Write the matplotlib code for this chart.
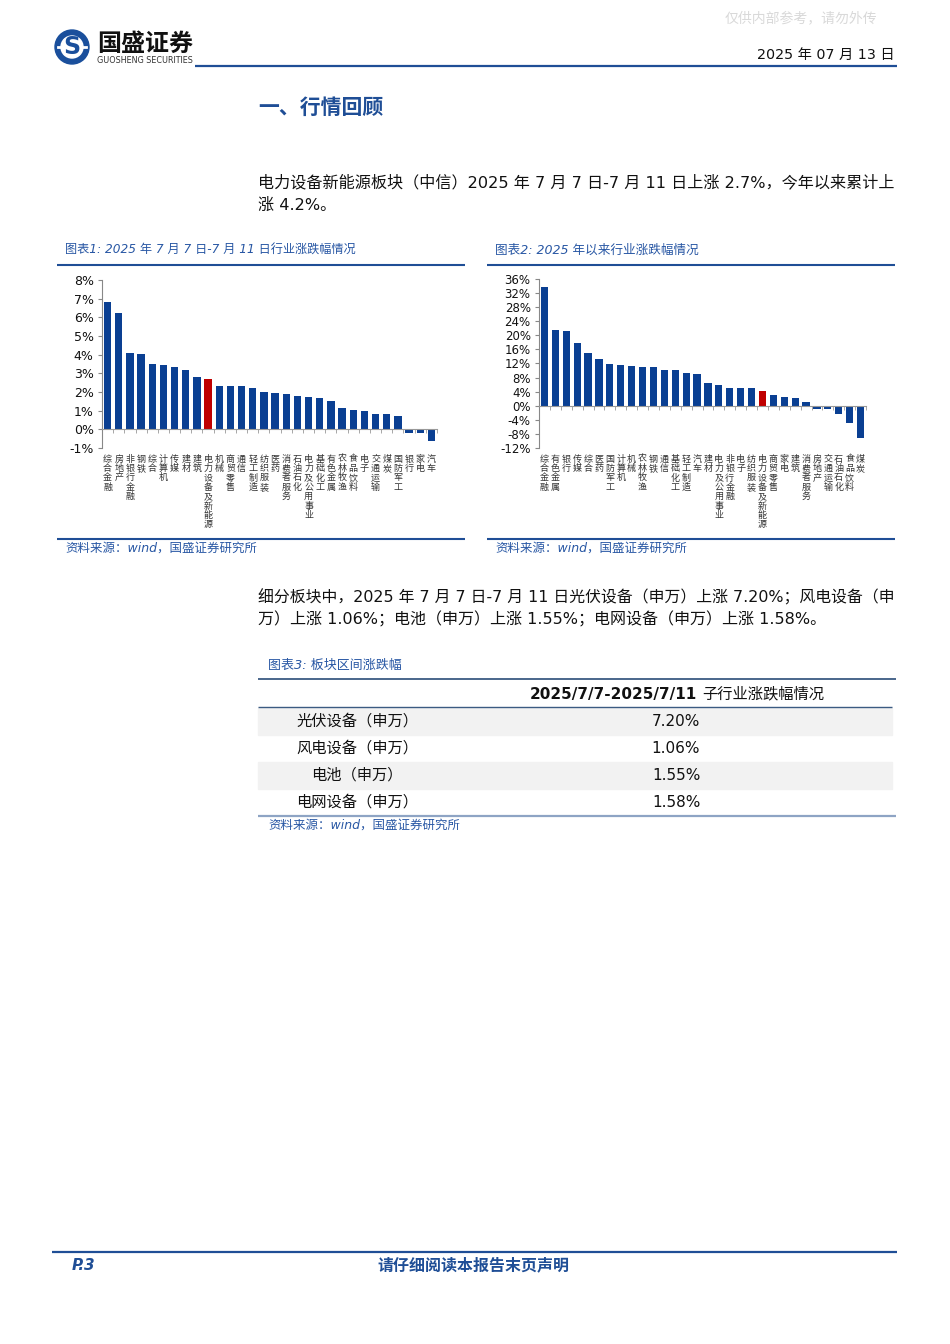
import numpy as np
import matplotlib
matplotlib.use("Agg")
import matplotlib.pyplot as plt
from matplotlib.patches import Circle, Rectangle

plt.rcParams["font.family"] = ["DejaVu Sans", "Noto Sans CJK SC"]

# ---- data ----
week_names = ["综合金融", "房地产", "非银行金融", "钢铁", "综合", "计算机", "传媒", "建材",
              "建筑", "电力设备及新能源", "机械", "商贸零售", "通信", "轻工制造", "纺织服装",
              "医药", "消费者服务", "石油石化", "电力及公用事业", "基础化工", "有色金属",
              "农林牧渔", "食品饮料", "电子", "交通运输", "煤炭", "国防军工", "银行", "家电", "汽车"]
week_chg = [6.84, 6.21, 4.07, 4.02, 3.50, 3.46, 3.36, 3.18, 2.82, 2.70, 2.32, 2.32, 2.30, 2.20,
            1.98, 1.93, 1.89, 1.80, 1.73, 1.68, 1.50, 1.12, 1.04, 0.98, 0.82, 0.82, 0.73,
            -0.18, -0.20, -0.60]

ytd_names = ["综合金融", "有色金属", "银行", "传媒", "综合", "医药", "国防军工", "计算机", "机械",
             "农林牧渔", "钢铁", "通信", "基础化工", "轻工制造", "汽车", "建材", "电力及公用事业",
             "非银行金融", "电子", "纺织服装", "电力设备及新能源", "商贸零售", "家电", "建筑",
             "消费者服务", "房地产", "交通运输", "石油石化", "食品饮料", "煤炭"]
ytd_chg = [33.7, 21.6, 21.2, 17.8, 15.1, 13.3, 11.9, 11.6, 11.2, 11.0, 11.0, 10.2, 10.1, 9.2, 9.0,
           6.6, 5.8, 5.1, 5.1, 4.9, 4.2, 3.0, 2.6, 2.1, 1.2, -0.8, -1.0, -2.4, -5.0, -9.3]

highlight = "电力设备及新能源"

table_rows = ["光伏设备（申万）", "风电设备（申万）", "电池（申万）", "电网设备（申万）"]
table_vals = ["7.20%", "1.06%", "1.55%", "1.58%"]

W, H = 950, 1344
BLUE = "#1f4e96"
TBLUE = "#2857a4"
BAR = "#0a3f92"
RED = "#c00000"
CJK = ["Noto Sans CJK SC", "DejaVu Sans"]

fig = plt.figure(figsize=(W / 100, H / 100), dpi=100)
ax0 = fig.add_axes([0, 0, 1, 1])
ax0.set_xlim(0, W)
ax0.set_ylim(H, 0)
ax0.axis("off")
renderer = fig.canvas.get_renderer()


def fit_text(x0, x1, y, s, size, **kw):
    t = ax0.text(x0, y, s, fontsize=size, ha="left", va="center", **kw)
    w = t.get_window_extent(renderer).width
    t.set_fontsize(size * (x1 - x0) / w)
    return t


def px_axes(x0, y0, x1, y1):
    return fig.add_axes([x0 / W, 1 - y1 / H, (x1 - x0) / W, (y1 - y0) / H])


def hline(y, x0, x1, color=BLUE, lw=1.5):
    ax0.plot([x0, x1], [y, y], color=color, lw=lw, solid_capstyle="butt")


# ---- header ----
ax0.text(877, 18, "仅供内部参考，请勿外传", fontsize=10, color="#d9d9d9", ha="right", va="center",
         family=CJK)
ax0.add_patch(Circle((72, 47), 17, color="#1a4f9c"))
ax0.add_patch(Circle((72, 47), 11, color="white"))
ax0.text(72, 47.5, "S", fontsize=17, color="#1a4f9c", fontweight="bold", ha="center", va="center")
ax0.plot([58, 86], [47, 47], color="white", lw=2)
fit_text(97, 193, 44, "国盛证券", 17, fontweight="bold", color="#111111", family=CJK)
fit_text(97, 192, 60.5, "GUOSHENG SECURITIES", 4.5, color="#333333")
fit_text(757, 895, 55, "2025 年 07 月 13 日", 11, color="#111111")
hline(66, 195, 897, lw=1.6)

ax0.text(258, 107, "一、行情回顾", fontsize=15, fontweight="bold", color=BLUE, ha="left",
         va="center", family=CJK)

t = fit_text(258, 895, 182, "电力设备新能源板块（中信）2025 年 7 月 7 日-7 月 11 日上涨 2.7%，今年以来累计上",
             11.5, color="#111111")
ax0.text(258, 205, "涨 4.2%。", fontsize=t.get_fontsize(), color="#111111", ha="left", va="center")

# ---- chart titles / frames ----
fit_text(65, 355, 250, "图表1: 2025 年 7 月 7 日-7 月 11 日行业涨跌幅情况", 8.5, color=TBLUE,
         style="italic")
fit_text(495, 698, 250, "图表2: 2025 年以来行业涨跌幅情况", 8.5, color=TBLUE, style="italic")
hline(265, 57, 465)
hline(265, 487, 895)
hline(539, 57, 465)
hline(539, 487, 895)
fit_text(65, 257, 548, "资料来源：wind，国盛证券研究所", 8, color=TBLUE, style="italic")
fit_text(495, 687, 548, "资料来源：wind，国盛证券研究所", 8, color=TBLUE, style="italic")


def bar_chart(ax, names, vals, ylo, yhi, step, tsize):
    x = np.arange(len(names))
    colors = [RED if n == highlight else BAR for n in names]
    ax.bar(x, vals, width=0.66, color=colors, zorder=2)
    ax.set_xlim(-0.5, len(names) - 0.5)
    ax.set_ylim(ylo, yhi)
    ax.set_yticks(np.arange(ylo, yhi + step / 2, step))
    ax.set_yticklabels([f"{v:g}%" for v in np.arange(ylo, yhi + step / 2, step)])
    ax.tick_params(axis="y", labelsize=tsize, colors="#888888", labelcolor="#111111",
                   length=3, width=0.8, pad=3)
    for s in ["top", "right"]:
        ax.spines[s].set_visible(False)
    ax.spines["left"].set_color("#888888")
    ax.spines["left"].set_linewidth(0.8)
    ax.spines["bottom"].set_position(("data", 0))
    ax.spines["bottom"].set_color("#999999")
    ax.spines["bottom"].set_linewidth(0.8)
    ax.set_xticks(np.arange(-0.5, len(names), 1.0))
    ax.set_xticklabels([])
    ax.tick_params(axis="x", length=3, width=0.6, colors="#999999", direction="out")
    ax.patch.set_alpha(0)
    for i, n in enumerate(names):
        ax.text(i, -0.04, "\n".join(n), transform=ax.get_xaxis_transform(), ha="center",
                va="top", fontsize=6.5, linespacing=1.05, color="#333333", family=CJK)


ax1 = px_axes(102, 280, 437, 448)
bar_chart(ax1, week_names, week_chg, -1, 8, 1, 9)
ax2 = px_axes(539, 279, 866, 448)
bar_chart(ax2, ytd_names, ytd_chg, -12, 36, 4, 8.5)

# ---- paragraph 2 ----
t2 = fit_text(258, 895, 597,
              "细分板块中，2025 年 7 月 7 日-7 月 11 日光伏设备（申万）上涨 7.20%；风电设备（申",
              11.5, color="#111111")
fit_text(258, 828, 619, "万）上涨 1.06%；电池（申万）上涨 1.55%；电网设备（申万）上涨 1.58%。",
         t2.get_fontsize(), color="#111111")

# ---- table ----
fit_text(268, 402, 665, "图表3: 板块区间涨跌幅", 8, color=TBLUE, style="italic")
hline(679, 258, 896, color="#3b5b82", lw=1.3)
ax0.text(697, 694, "2025/7/7-2025/7/11", fontsize=11, fontweight="bold", color="#111111",
         ha="right", va="center")
ax0.text(702, 694, "子行业涨跌幅情况", fontsize=11, color="#111111", ha="left", va="center",
         family=CJK)
hline(707, 258, 892, color="#3b5b82", lw=1.0)
row_h = 27
for i, (name, val) in enumerate(zip(table_rows, table_vals)):
    top = 707 + i * row_h
    if i % 2 == 0:
        ax0.add_patch(Rectangle((258, top + 0.5), 634, row_h, color="#f2f2f2", zorder=0))
    ax0.text(357, top + row_h / 2 + 1, name, fontsize=11, color="#111111", ha="center",
             va="center", family=CJK)
    ax0.text(676, top + row_h / 2 + 1, val, fontsize=11, color="#111111", ha="center",
             va="center")
hline(816, 258, 896, color="#8ea4c4", lw=1.6)
fit_text(268, 460, 825, "资料来源：wind，国盛证券研究所", 8, color=TBLUE, style="italic")

# ---- footer ----
hline(1252, 52, 897, lw=1.6)
ax0.text(72, 1265, "P.3", fontsize=11, fontweight="bold", style="italic", color=BLUE,
         ha="left", va="center")
fit_text(377, 569, 1265, "请仔细阅读本报告末页声明", 10.5, fontweight="bold", color=BLUE,
         family=CJK)

fig.savefig("out.png", dpi=100)
